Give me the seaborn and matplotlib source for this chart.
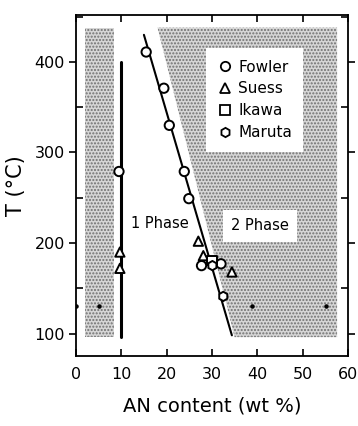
import pandas as pd
import matplotlib.pyplot as plt
import seaborn as sns
from matplotlib.patches import Polygon
from matplotlib.ticker import MultipleLocator

sns.set_style('ticks')
plt.rcParams['font.family'] = ['DejaVu Sans']
plt.rcParams['text.color'] = 'black'
plt.rcParams['axes.labelcolor'] = 'black'
plt.rcParams['xtick.color'] = 'black'
plt.rcParams['ytick.color'] = 'black'
plt.rcParams['axes.edgecolor'] = 'black'

# 数据点 (AN content wt%, T °C)
fowler_x = [15.5, 19.4, 20.6, 9.5, 23.9, 24.9, 27.7, 32.0]
fowler_t = [411, 371, 330, 279, 279, 249, 175, 177]
suess_x = [9.7, 9.7, 27.0, 28.1, 34.4]
suess_t = [190, 172, 202, 186, 168]
ikawa_x = [30.0]
ikawa_t = [181]
maruta_x = [30.1, 32.5]
maruta_t = [175, 141]

# 小黑点
dot_x = [0, 5.1, 38.8, 55.1]
dot_t = [130, 130, 130, 130]

# 相界线
phase_x = [15.0, 34.4]
phase_t = [430, 98]
vert_x = [10, 10]
vert_t = [96, 400]

# 阴影区域
left_band_x = [2.0, 8.5, 8.5, 2.0]
left_band_t = [96, 96, 438, 438]
right_reg_x = [18.0, 35.0, 57.6, 57.6]
right_reg_t = [438, 96, 96, 438]

sources = ['Fowler', 'Suess', 'Ikawa', 'Maruta']
df = pd.concat([
    pd.DataFrame({'x': fowler_x, 't': fowler_t, 'src': 'Fowler'}),
    pd.DataFrame({'x': suess_x, 't': suess_t, 'src': 'Suess'}),
    pd.DataFrame({'x': ikawa_x, 't': ikawa_t, 'src': 'Ikawa'}),
    pd.DataFrame({'x': maruta_x, 't': maruta_t, 'src': 'Maruta'}),
], ignore_index=True)

fig = plt.figure(figsize=(3.58, 4.26), dpi=100)
ax = fig.add_axes([0.212, 0.164, 0.76, 0.801])

for xs, ts in [(left_band_x, left_band_t), (right_reg_x, right_reg_t)]:
    ax.add_patch(Polygon(list(zip(xs, ts)), closed=True, facecolor='#d6d6d6',
                         edgecolor='#707070', hatch='.....', lw=0, zorder=0))

sns.lineplot(x=phase_x, y=phase_t, color='black', lw=1.5, ax=ax, zorder=2,
             estimator=None, sort=False)
sns.lineplot(x=vert_x, y=vert_t, color='black', lw=2.2, ax=ax, zorder=2,
             estimator=None, sort=False)
ax.scatter(dot_x, dot_t, s=5, color='black', zorder=3)

sns.scatterplot(data=df, x='x', y='t', style='src', style_order=sources,
                markers={'Fowler': 'o', 'Suess': '^', 'Ikawa': 's', 'Maruta': 'h'},
                s=45, facecolor='white', edgecolor='black', linewidth=1.4,
                ax=ax, zorder=4, legend=True)

ax.text(18.6, 222, '1 Phase', fontsize=10.5, ha='center', va='center')
ax.text(40.6, 219, '2 Phase', fontsize=10.5, ha='center', va='center',
        bbox=dict(facecolor='white', edgecolor='none', pad=6))

leg = ax.legend(loc='upper left', bbox_to_anchor=(0.45, 0.925), frameon=True,
                fontsize=11, handletextpad=0.35, labelspacing=0.45,
                borderpad=0.75, handlelength=1.0)
leg.get_frame().set_facecolor('white')
leg.get_frame().set_edgecolor('none')
leg.get_frame().set_alpha(1)
leg.get_frame().set_boxstyle('square', pad=0)
for h in leg.legend_handles:
    h.set_markerfacecolor('white')
    h.set_markeredgecolor('black')
    h.set_markeredgewidth(1.3)

ax.set_xlim(0, 60)
ax.set_ylim(75, 452)
ax.set_xticks([0, 10, 20, 30, 40, 50, 60])
ax.set_yticks([100, 200, 300, 400])
ax.yaxis.set_minor_locator(MultipleLocator(50))
ax.tick_params(axis='both', which='both', direction='in', top=True, right=True,
               labelsize=11.5, length=5, width=1.2, pad=8)
ax.tick_params(axis='y', which='major', direction='out', pad=3)
for s in ax.spines.values():
    s.set_linewidth(1.3)

ax.set_xlabel('AN content (wt %)', fontsize=14, labelpad=10)
ax.set_ylabel('T (°C)', fontsize=15, labelpad=6)

plt.savefig('out.png', dpi=100)
